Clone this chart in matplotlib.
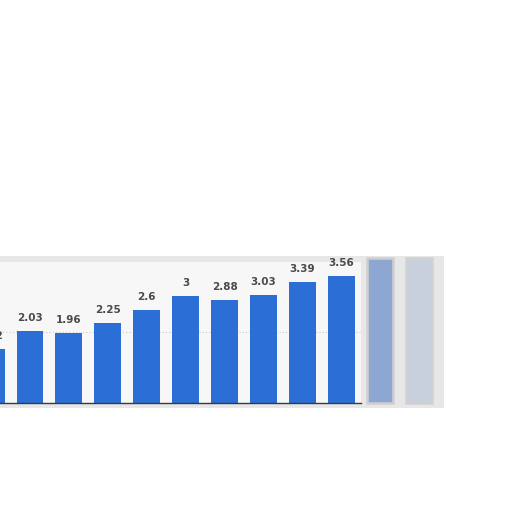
import numpy as np
import matplotlib.pyplot as plt
from matplotlib.patches import Rectangle

# values
values = [1.52, 2.03, 1.96, 2.25, 2.6, 3, 2.88, 3.03, 3.39, 3.56]
labels = ['1.52', '2.03', '1.96', '2.25', '2.6', '3', '2.88', '3.03', '3.39', '3.56']
# the two smeared bars at the right edge
faded_values = [4.06, 4.06]
faded_colors = ['#7d9ccf', '#c3cddd']

bar_color = '#2b6fd6'

fig = plt.figure(figsize=(5.12, 5.12), dpi=100)
ax = fig.add_axes([0, 0, 1, 1])
ax.set_xlim(0.229, 13.39)
ax.set_ylim(-3.05, 11.29)
ax.axis('off')

# grey frame behind the plot
ax.add_patch(Rectangle((0.2, -0.14), 11.45, 4.26, facecolor='#e2e2e2',
                       edgecolor='none', alpha=0.8, zorder=0))
ax.add_patch(Rectangle((0.2, 0.0), 9.32, 3.95, facecolor='#f7f7f7',
                       edgecolor='none', zorder=0.5))

x = np.arange(len(values))
ax.plot([0.2, 9.5], [2, 2], color='#c8c8c8', lw=0.8, ls=(0, (1, 2)), zorder=1)
ax.bar(x, values, width=0.69, color=bar_color, zorder=2)

xf = np.arange(len(values), len(values) + len(faded_values))
ax.bar(xf, faded_values, width=0.66, color=faded_colors, alpha=0.85,
       edgecolor='#d0d0d0', linewidth=2, zorder=2)

ax.plot([0.2, 9.5], [0, 0], color='#3a3a3a', lw=1.0, zorder=3)

for xi, v, lab in zip(x, values, labels):
    ax.text(xi, v + 0.22, lab, ha='center', va='bottom', fontsize=7.5,
            fontweight='bold', color='#4a4a4a', zorder=4)

fig.savefig('out.png', dpi=100)
